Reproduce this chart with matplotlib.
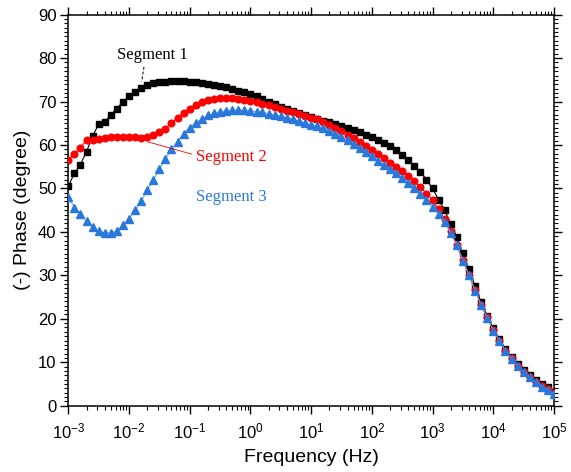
import matplotlib
matplotlib.use("Agg")
import matplotlib.pyplot as plt
from matplotlib.ticker import LogLocator, MultipleLocator, NullFormatter, FixedLocator

plt.rcParams['font.family'] = ['Liberation Sans', 'DejaVu Sans']
plt.rcParams['mathtext.fontset'] = 'custom'
plt.rcParams['mathtext.rm'] = 'Liberation Sans'
plt.rcParams['mathtext.default'] = 'regular'

freq = [0.001, 0.00126, 0.00158, 0.002, 0.00251, 0.00316, 0.00398, 0.00501, 0.00631, 0.00794,
        0.01, 0.0126, 0.0158, 0.02, 0.0251, 0.0316, 0.0398, 0.0501, 0.0631, 0.0794,
        0.1, 0.126, 0.158, 0.2, 0.251, 0.316, 0.398, 0.501, 0.631, 0.794,
        1, 1.26, 1.58, 2, 2.51, 3.16, 3.98, 5.01, 6.31, 7.94,
        10, 12.6, 15.8, 20, 25.1, 31.6, 39.8, 50.1, 63.1, 79.4,
        100, 126, 158, 200, 251, 316, 398, 501, 631, 794,
        1000, 1260, 1580, 2000, 2510, 3160, 3980, 5010, 6310, 7940,
        10000, 12600, 15800, 20000, 25100, 31600, 39800, 50100, 63100, 79400,
        100000]

seg1 = [50.5, 53.5, 55.5, 58.5, 62.0, 64.8, 65.3, 67.0, 68.4, 70.0,
        71.3, 72.3, 73.2, 73.8, 74.2, 74.4, 74.6, 74.7, 74.7, 74.7,
        74.6, 74.5, 74.3, 74.1, 73.9, 73.6, 73.3, 72.9, 72.5, 72.1,
        71.7, 71.2, 70.6, 70.0, 69.4, 68.8, 68.3, 67.8, 67.3, 66.9,
        66.4, 66.0, 65.6, 65.2, 64.8, 64.4, 64.0, 63.5, 62.9, 62.4,
        61.8, 61.2, 60.5, 59.8, 58.8, 57.7, 56.5, 55.2, 53.9, 52.0,
        50.0, 47.4, 45.0, 41.8, 38.8, 35.1, 31.5, 27.5, 23.9, 20.6,
        17.8, 15.3, 13.0, 11.3, 9.6, 8.2, 7.1, 5.9, 5.0, 4.2,
        3.2]

seg2 = [56.5, 58.0, 59.3, 61.2, 61.1, 61.4, 61.7, 61.9, 61.9, 61.8,
        61.8, 61.8, 61.6, 61.9, 62.3, 62.9, 63.8, 65.1, 66.3, 67.4,
        68.4, 69.2, 69.8, 70.3, 70.6, 70.8, 70.8, 70.8, 70.6, 70.4,
        70.1, 69.8, 69.5, 69.1, 68.7, 68.3, 67.9, 67.5, 67.1, 66.7,
        66.3, 65.9, 65.3, 64.6, 63.9, 63.2, 62.4, 61.6, 60.8, 59.8,
        58.8, 57.9, 56.9, 55.9, 55.0, 54.0, 52.9, 51.7, 50.3, 48.8,
        47.3, 45.2, 42.9, 40.1, 37.0, 33.5, 30.1, 26.6, 23.2, 20.3,
        17.4, 15.0, 12.7, 10.9, 9.2, 7.8, 6.7, 5.5, 4.5, 3.8,
        2.9]

seg3 = [48.0, 45.6, 44.2, 42.5, 41.2, 40.2, 39.8, 39.8, 40.2, 41.6,
        43.0, 45.0, 47.1, 49.7, 52.0, 54.4, 56.8, 59.0, 60.8, 62.6,
        64.0, 65.1, 66.0, 66.8, 67.3, 67.7, 67.9, 68.0, 68.0, 68.0,
        67.9, 67.7, 67.5, 67.2, 66.9, 66.6, 66.3, 65.9, 65.5, 65.1,
        64.7, 64.3, 63.9, 63.3, 62.6, 61.9, 61.1, 60.3, 59.4, 58.4,
        57.4, 56.4, 55.4, 54.5, 53.5, 52.5, 51.3, 50.1, 48.7, 47.3,
        45.8, 44.2, 42.3, 39.7, 36.9, 33.4, 30.0, 26.5, 23.1, 20.2,
        17.3, 14.9, 12.6, 10.8, 9.1, 7.7, 6.6, 5.4, 4.4, 3.7,
        2.8]

xticks = [1e-3, 1e-2, 1e-1, 1e0, 1e1, 1e2, 1e3, 1e4, 1e5]
labels = ["Segment 1", "Segment 2", "Segment 3"]
RED = '#FF0000'
BLUE = '#2A78DC'

fig = plt.figure(figsize=(5.71, 4.72), dpi=100)
ax = fig.add_axes([0.1196, 0.1405, 0.8506, 0.8284])

ax.plot(freq, seg1, color='black', lw=0.8, marker='s', ms=4.2, mec='black', mfc='black', zorder=3)
ax.plot(freq, seg2, color=RED, lw=0.8, marker='o', ms=4.8, mec=RED, mfc=RED, zorder=4)
ax.plot(freq, seg3, color='#6FA8EC', lw=0.8, marker='^', ms=5.2, mec=BLUE, mfc=BLUE, zorder=5)

ax.set_xscale('log')
ax.set_xlim(1e-3, 1e5)
ax.set_ylim(0, 90)
ax.xaxis.set_major_locator(FixedLocator(xticks))
ax.xaxis.set_minor_locator(LogLocator(base=10, subs=range(2, 10), numticks=200))
ax.xaxis.set_minor_formatter(NullFormatter())
ax.yaxis.set_major_locator(MultipleLocator(10))
ax.yaxis.set_minor_locator(MultipleLocator(1))

ax.tick_params(which='both', direction='out', top=True, right=True, width=1.0)
ax.tick_params(which='major', length=5.5, labelsize=12, pad=3)
ax.tick_params(axis='x', which='major', pad=6)
ax.tick_params(which='minor', length=2.8, width=0.8)
for s in ax.spines.values():
    s.set_linewidth(1.1)

ax.set_xlabel('Frequency (Hz)', fontsize=14, labelpad=5)
ax.set_ylabel('(-) Phase (degree)', fontsize=14, labelpad=5)

serif = ['Liberation Serif', 'DejaVu Serif']
ax.text(0.0239, 80.7, labels[0], family=serif, fontsize=12, color='black', ha='center', va='center')
ax.plot([0.01766, 0.01618], [78.0, 74.6], color='black', lw=0.7, ls=(0, (3, 2)), zorder=6)
ax.text(0.492, 57.3, labels[1], family=serif, fontsize=12, color=RED, ha='center', va='center')
ax.plot([0.0196, 0.108], [60.8, 57.9], color=RED, lw=0.6, zorder=6)
ax.text(0.492, 48.0, labels[2], family=serif, fontsize=12, color=BLUE, ha='center', va='center')

fig.savefig('out.png', dpi=100)
